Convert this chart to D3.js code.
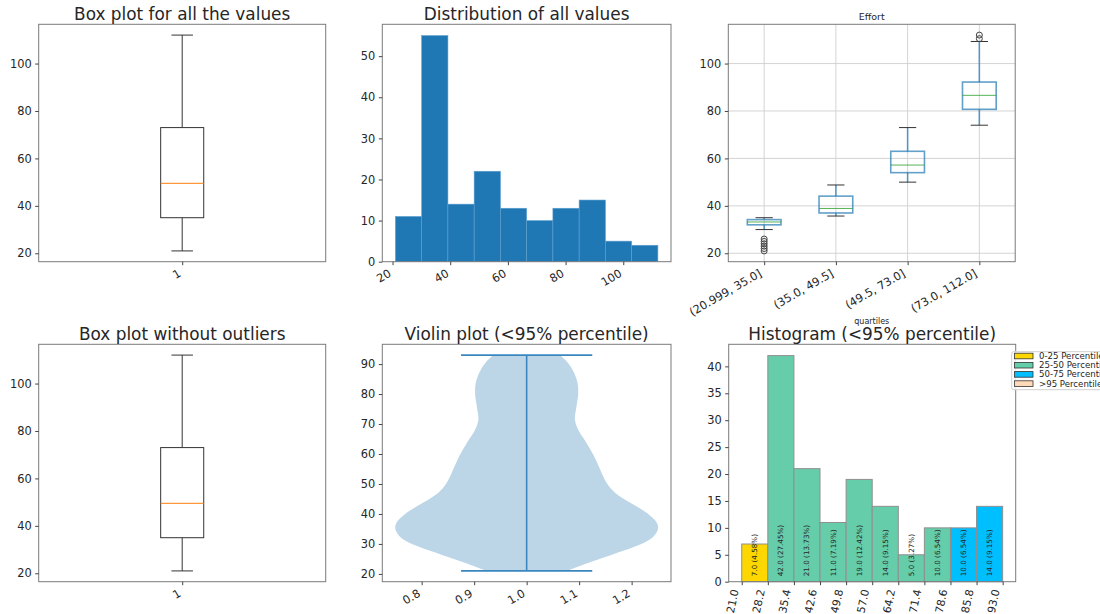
<!DOCTYPE html>
<html><head><meta charset="utf-8">
<script src="https://cdn.jsdelivr.net/npm/d3@7"></script>
<style>
body{margin:0;background:#fff}
svg{display:block}
text{font-family:"DejaVu Sans",sans-serif;fill:#262626}
</style>
</head><body>
<svg id="c" width="1100" height="614"></svg>
<script>
// ---------------- DATA ----------------
// overall box plot stats: [lower whisker, Q1, median, Q3, upper whisker]
const boxStatsAll = [21, 35, 49.5, 73, 112];
const boxStatsNoOutliers = [21, 35, 49.5, 73, 112];
const boxTickLabels = ["1"];
const boxYTicks = [20, 40, 60, 80, 100];

// distribution of all values
const histAllEdges = [21, 30.1, 39.2, 48.3, 57.4, 66.5, 75.6, 84.7, 93.8, 102.9, 112];
const histAllCounts = [11, 55, 14, 22, 13, 10, 13, 15, 5, 4];
const histAllXTicks = [20, 40, 60, 80, 100];
const histAllYTicks = [0, 10, 20, 30, 40, 50];

// Effort by quartiles
const quartileLabels = ["(20.999, 35.0]", "(35.0, 49.5]", "(49.5, 73.0]", "(73.0, 112.0]"];
const qWhiskerLow = [30, 35.7, 50, 74];
const qQ1 = [32, 37, 54, 80.7];
const qMedian = [33.2, 38.9, 57.2, 86.6];
const qQ3 = [34.2, 44.1, 63, 92.2];
const qWhiskerHigh = [35, 48.8, 73, 109.3];
const qOutliers = [[21, 22, 23, 24, 25, 26], [], [], [110.5, 112]];
const effortYTicks = [20, 40, 60, 80, 100];

// violin (<95% percentile): y values and relative half-widths
const violinY = [93, 90.3, 87, 83.7, 80.3, 75.9, 71.4, 68.1, 63.7, 59.2, 54.8, 50.3, 47, 43.7, 40.3, 37, 34.8, 32, 29.2, 26.4, 23.7, 21];
const violinW = [0.254, 0.317, 0.362, 0.388, 0.393, 0.38, 0.368, 0.393, 0.456, 0.515, 0.56, 0.61, 0.675, 0.79, 0.917, 0.993, 1.0, 0.955, 0.83, 0.65, 0.472, 0.306];
const violinXTicks = [0.8, 0.9, 1.0, 1.1, 1.2];
const violinYTicks = [20, 30, 40, 50, 60, 70, 80, 90];

// histogram (<95% percentile)
const hist95Edges = [21.0, 28.2, 35.4, 42.6, 49.8, 57.0, 64.2, 71.4, 78.6, 85.8, 93.0];
const hist95Counts = [7, 42, 21, 11, 19, 14, 5, 10, 10, 14];
const hist95Group = [0, 1, 1, 1, 1, 1, 1, 1, 2, 2];
const hist95YTicks = [0, 5, 10, 15, 20, 25, 30, 35, 40];
const legendLabels = ["0-25 Percentile", "25-50 Percentile", "50-75 Percentile", ">95 Percentile"];
const legendColors = ["#ffd700", "#66cdaa", "#00bfff", "#ffdab9"];

// ---------------- LAYOUT ----------------
const P1 = {x0: 38.7, x1: 325.7, y0: 24.3, y1: 261.7};
const P2 = {x0: 382.3, x1: 671, y0: 24.3, y1: 261.7};
const P3 = {x0: 728.3, x1: 1015.2, y0: 24.3, y1: 261.7};
const P4 = {x0: 38.7, x1: 325.7, y0: 344.3, y1: 581.7};
const P5 = {x0: 382.3, x1: 671, y0: 344.3, y1: 581.7};
const P6 = {x0: 728.7, x1: 1015.7, y0: 344.3, y1: 581.7};

const TICK_FS = 11.4;
const svg = d3.select("#c");

function padDomain(lo, hi) { const p = (hi - lo) * 0.05; return [lo - p, hi + p]; }

function frame(P) {
  svg.append("rect").attr("x", P.x0).attr("y", P.y0)
    .attr("width", P.x1 - P.x0).attr("height", P.y1 - P.y0)
    .attr("fill", "none").attr("stroke", "#7a7a7a").attr("stroke-width", 1);
}
function title(P, txt, fs) {
  svg.append("text").attr("x", (P.x0 + P.x1) / 2).attr("y", P.y0 - 4)
    .attr("text-anchor", "middle").style("font-size", (fs || 16.9) + "px").text(txt);
}
function yAxis(P, y, ticks) {
  const g = svg.append("g").attr("transform", `translate(${P.x0},0)`)
    .call(d3.axisLeft(y).tickValues(ticks).tickSize(3.5).tickPadding(3.5));
  g.select(".domain").remove();
  g.selectAll("line").attr("stroke", "#444");
  g.selectAll("text").style("font-size", TICK_FS + "px").attr("fill", "#262626");
  g.attr("font-family", null).attr("font-size", null);
  return g;
}
function xAxis(P, x, ticks, fmt, rot, dx, dy, fs) {
  const g = svg.append("g").attr("transform", `translate(0,${P.y1})`)
    .call(d3.axisBottom(x).tickValues(ticks).tickSize(3.5).tickFormat(fmt));
  g.select(".domain").remove();
  g.selectAll("line").attr("stroke", "#444");
  g.selectAll("text").attr("y", null).attr("dy", null)
    .attr("text-anchor", "end")
    .attr("transform", `translate(${dx},${dy}) rotate(${rot})`)
    .style("font-size", (fs || TICK_FS) + "px").attr("fill", "#262626");
  g.attr("font-family", null).attr("font-size", null);
  return g;
}

// ---------- simple box plots (panels 1 & 4) ----------
function simpleBox(P, stats, ttl) {
  const x = d3.scaleLinear([0.5, 1.5], [P.x0, P.x1]);
  const y = d3.scaleLinear(padDomain(stats[0], stats[4]), [P.y1, P.y0]);
  const g = svg.append("g");
  const bw = 0.15, cw = 0.075;
  g.append("rect").attr("x", x(1 - bw / 2)).attr("y", y(stats[3]))
    .attr("width", x(1 + bw / 2) - x(1 - bw / 2)).attr("height", y(stats[1]) - y(stats[3]))
    .attr("fill", "none").attr("stroke", "#333").attr("stroke-width", 1);
  g.append("line").attr("x1", x(1)).attr("x2", x(1)).attr("y1", y(stats[3])).attr("y2", y(stats[4])).attr("stroke", "#333");
  g.append("line").attr("x1", x(1)).attr("x2", x(1)).attr("y1", y(stats[1])).attr("y2", y(stats[0])).attr("stroke", "#333");
  [stats[0], stats[4]].forEach(v => g.append("line").attr("x1", x(1 - cw / 2)).attr("x2", x(1 + cw / 2))
    .attr("y1", y(v)).attr("y2", y(v)).attr("stroke", "#333"));
  g.append("line").attr("x1", x(1 - bw / 2)).attr("x2", x(1 + bw / 2)).attr("y1", y(stats[2])).attr("y2", y(stats[2]))
    .attr("stroke", "#ff7f0e").attr("stroke-width", 1);
  frame(P);
  yAxis(P, y, boxYTicks);
  xAxis(P, x, [1], (d, i) => boxTickLabels[i], -30, -1, 14);
  title(P, ttl);
}
simpleBox(P1, boxStatsAll, "Box plot for all the values");
simpleBox(P4, boxStatsNoOutliers, "Box plot without outliers");

// ---------- distribution of all values (panel 2) ----------
(function () {
  const P = P2;
  const x = d3.scaleLinear(padDomain(histAllEdges[0], histAllEdges[histAllEdges.length - 1]), [P.x0, P.x1]);
  const y = d3.scaleLinear([0, d3.max(histAllCounts) * 1.05], [P.y1, P.y0]);
  svg.append("g").selectAll("rect").data(histAllCounts).join("rect")
    .attr("x", (d, i) => x(histAllEdges[i]))
    .attr("width", (d, i) => x(histAllEdges[i + 1]) - x(histAllEdges[i]))
    .attr("y", d => y(d)).attr("height", d => y(0) - y(d))
    .attr("fill", "#1f77b4").attr("stroke", "#5d9fd0").attr("stroke-width", 0.6);
  frame(P);
  yAxis(P, y, histAllYTicks);
  xAxis(P, x, histAllXTicks, d3.format("d"), -30, -1, 14);
  title(P, "Distribution of all values");
})();

// ---------- Effort by quartiles (panel 3) ----------
(function () {
  const P = P3;
  const allVals = [].concat(qWhiskerLow, qWhiskerHigh, ...qOutliers);
  const x = d3.scaleLinear([0.5, quartileLabels.length + 0.5], [P.x0, P.x1]);
  const y = d3.scaleLinear(padDomain(d3.min(allVals), d3.max(allVals)), [P.y1, P.y0]);
  const pos = quartileLabels.map((d, i) => i + 1);
  const grid = svg.append("g").attr("stroke", "#d4d4d4").attr("stroke-width", 1);
  effortYTicks.forEach(t => grid.append("line").attr("x1", P.x0).attr("x2", P.x1).attr("y1", y(t)).attr("y2", y(t)));
  pos.forEach(p => grid.append("line").attr("x1", x(p)).attr("x2", x(p)).attr("y1", P.y0).attr("y2", P.y1));
  const bw = 0.47, cw = 0.24;
  const g = svg.append("g");
  pos.forEach((p, i) => {
    g.append("line").attr("x1", x(p)).attr("x2", x(p)).attr("y1", y(qQ3[i])).attr("y2", y(qWhiskerHigh[i]))
      .attr("stroke", "#1f77b4").attr("stroke-width", 1.6).attr("stroke-opacity", 0.7);
    g.append("line").attr("x1", x(p)).attr("x2", x(p)).attr("y1", y(qQ1[i])).attr("y2", y(qWhiskerLow[i]))
      .attr("stroke", "#1f77b4").attr("stroke-width", 1.6).attr("stroke-opacity", 0.7);
    g.append("rect").attr("x", x(p - bw / 2)).attr("y", y(qQ3[i]))
      .attr("width", x(p + bw / 2) - x(p - bw / 2)).attr("height", y(qQ1[i]) - y(qQ3[i]))
      .attr("fill", "none").attr("stroke", "#1f77b4").attr("stroke-width", 1.6).attr("stroke-opacity", 0.7);
    [qWhiskerLow[i], qWhiskerHigh[i]].forEach(v => g.append("line")
      .attr("x1", x(p - cw / 2)).attr("x2", x(p + cw / 2)).attr("y1", y(v)).attr("y2", y(v))
      .attr("stroke", "#333").attr("stroke-width", 1));
    g.append("line").attr("x1", x(p - bw / 2)).attr("x2", x(p + bw / 2)).attr("y1", y(qMedian[i])).attr("y2", y(qMedian[i]))
      .attr("stroke", "#2ca02c").attr("stroke-width", 1).attr("stroke-opacity", 0.8);
    qOutliers[i].forEach(v => g.append("circle").attr("cx", x(p)).attr("cy", y(v)).attr("r", 3)
      .attr("fill", "none").attr("stroke", "#444").attr("stroke-width", 1));
  });
  frame(P);
  yAxis(P, y, effortYTicks);
  xAxis(P, x, pos, (d, i) => quartileLabels[i], -30, -2, 14);
  title(P, "Effort", 9.5);
  svg.append("text").attr("x", (P.x0 + P.x1) / 2).attr("y", 323.5).attr("text-anchor", "middle")
    .style("font-size", "8px").text("quartiles");
})();

// ---------- Violin (panel 5) ----------
(function () {
  const P = P5;
  const x = d3.scaleLinear(padDomain(0.75, 1.25), [P.x0, P.x1]);
  const y = d3.scaleLinear(padDomain(d3.min(violinY), d3.max(violinY)), [P.y1, P.y0]);
  const pts = violinY.map((v, i) => [v, violinW[i]]);
  const area = d3.area().curve(d3.curveCatmullRom)
    .y(d => y(d[0])).x0(d => x(1 - 0.25 * d[1])).x1(d => x(1 + 0.25 * d[1]));
  svg.append("path").datum(pts).attr("d", area).attr("fill", "#bcd6e8");
  const lo = d3.min(violinY), hi = d3.max(violinY);
  const lg = svg.append("g").attr("stroke", "#3a87c0").attr("stroke-width", 1.6);
  lg.append("line").attr("x1", x(1)).attr("x2", x(1)).attr("y1", y(lo)).attr("y2", y(hi));
  [lo, hi].forEach(v => lg.append("line").attr("x1", x(0.875)).attr("x2", x(1.125)).attr("y1", y(v)).attr("y2", y(v)));
  frame(P);
  yAxis(P, y, violinYTicks);
  xAxis(P, x, violinXTicks, d3.format(".1f"), -30, -1, 14);
  title(P, "Violin plot (<95% percentile)");
})();

// ---------- Histogram <95% (panel 6) ----------
(function () {
  const P = P6;
  const x = d3.scaleLinear(padDomain(hist95Edges[0], hist95Edges[hist95Edges.length - 1]), [P.x0, P.x1]);
  const y = d3.scaleLinear([0, d3.max(hist95Counts) * 1.05], [P.y1, P.y0]);
  const total = d3.sum(hist95Counts);
  svg.append("g").selectAll("rect").data(hist95Counts).join("rect")
    .attr("x", (d, i) => x(hist95Edges[i]))
    .attr("width", (d, i) => x(hist95Edges[i + 1]) - x(hist95Edges[i]))
    .attr("y", d => y(d)).attr("height", d => y(0) - y(d))
    .attr("fill", (d, i) => legendColors[hist95Group[i]])
    .attr("stroke", "#8f8f8f").attr("stroke-width", 1);
  const fmt = d3.format(".2f");
  svg.append("g").selectAll("text").data(hist95Counts).join("text")
    .attr("transform", (d, i) => `translate(${(x(hist95Edges[i]) + x(hist95Edges[i + 1])) / 2},${P.y1 - 5.5}) rotate(-90)`)
    .attr("dominant-baseline", "central").attr("text-anchor", "start")
    .style("font-size", "7.2px").attr("fill", "#111")
    .text(d => `${d.toFixed(1)} (${fmt(d / total * 100)}%)`);
  frame(P);
  yAxis(P, y, hist95YTicks);
  xAxis(P, x, hist95Edges, d3.format(".1f"), -78, -3.5, 8.5, 10.8);
  title(P, "Histogram (<95% percentile)");
  // legend
  const L = svg.append("g");
  L.append("rect").attr("x", 1011.7).attr("y", 351.7).attr("width", 120).attr("height", 38)
    .attr("rx", 2).attr("fill", "#fff").attr("fill-opacity", 0.85).attr("stroke", "#d0d0d0");
  legendLabels.forEach((lab, i) => {
    const cy = 356 + i * 9.2;
    L.append("rect").attr("x", 1014.5).attr("y", cy - 2.8).attr("width", 18.5).attr("height", 5.6)
      .attr("fill", legendColors[i]).attr("stroke", "#333").attr("stroke-width", 0.8);
    L.append("text").attr("x", 1039).attr("y", cy).attr("dominant-baseline", "central")
      .style("font-size", "8.6px").text(lab);
  });
})();
</script>
</body></html>
